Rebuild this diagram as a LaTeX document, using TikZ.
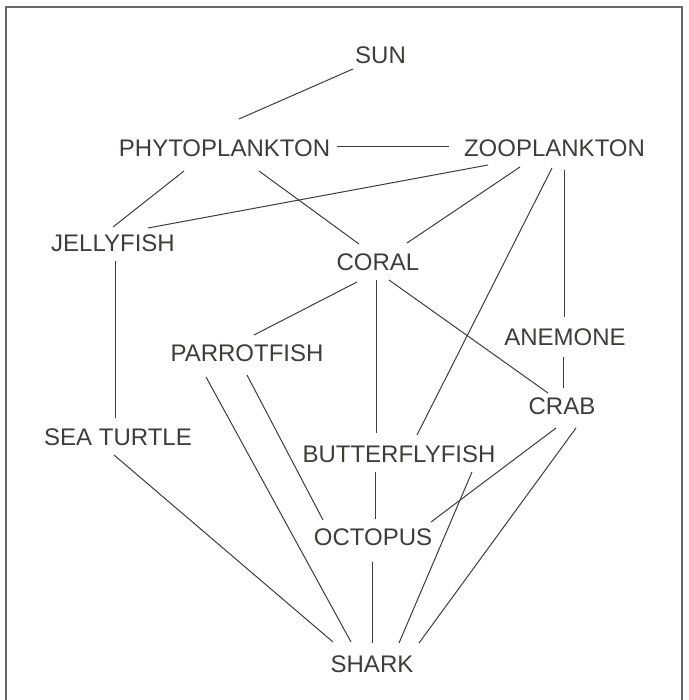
\documentclass[tikz,border=0pt]{standalone}
\usepackage{fontspec}
\setmainfont{Liberation Sans}
\definecolor{ink}{HTML}{403D38}
\definecolor{frame}{HTML}{6A6A62}
\begin{document}
\begin{tikzpicture}[x=1pt,y=-1pt,
  lbl/.style={inner sep=0pt, text=ink, font=\fontsize{24}{28}\selectfont},
  link/.style={draw=ink, line width=1pt}]
\useasboundingbox[fill=white] (0,0) rectangle (688,700);
\draw[frame, line width=2.2pt] (6,701) -- (6,7) -- (682,7) -- (682,701);

\node[lbl] (sun)    at (380.5,55)  {SUN};
\node[lbl] (phyto)  at (224.5,148) {PHYTOPLANKTON};
\node[lbl] (zoo)    at (554.5,148.5) {ZOOPLANKTON};
\node[lbl] (jelly)  at (113,243)   {JELLYFISH};
\node[lbl] (coral)  at (378,262)   {CORAL};
\node[lbl] (anem)   at (565,337)   {ANEMONE};
\node[lbl] (parrot) at (247,353)   {PARROTFISH};
\node[lbl] (crab)   at (562,406)   {CRAB};
\node[lbl] (turtle) at (118,437)   {SEA TURTLE};
\node[lbl] (butter) at (399,454)   {BUTTERFLYFISH};
\node[lbl] (octo)   at (373,537)   {OCTOPUS};
\node[lbl] (shark)  at (372,664)   {SHARK};

\draw[link] ([shift={(-27.5,14)}]sun.center) -- ([shift={(14.5,-29)}]phyto.center);
\draw[link] ([shift={(112.5,-1)}]phyto.center) -- ([shift={(-105.5,-1.5)}]zoo.center);
\draw[link] ([shift={(-40.5,23)}]phyto.center) -- ([shift={(0,-16)}]jelly.center);
\draw[link] ([shift={(34.5,23)}]phyto.center) -- ([shift={(-19,-18)}]coral.center);
\draw[link] ([shift={(-66.5,16.5)}]zoo.center) -- ([shift={(35,-15)}]jelly.center);
\draw[link] ([shift={(-34.5,18.5)}]zoo.center) -- ([shift={(29,-19)}]coral.center);
\draw[link] ([shift={(-2.5,19.5)}]zoo.center) -- ([shift={(18,-19)}]butter.center);
\draw[link] ([shift={(9.5,21.5)}]zoo.center) -- ([shift={(-1,-20)}]anem.center);
\draw[link] ([shift={(2,18)}]jelly.center) -- ([shift={(-3,-19)}]turtle.center);
\draw[link] ([shift={(-21,20)}]coral.center) -- ([shift={(7,-18)}]parrot.center);
\draw[link] ([shift={(-2,18)}]coral.center) -- ([shift={(-23,-21)}]butter.center);
\draw[link] ([shift={(11,18)}]coral.center) -- ([shift={(-14,-13)}]crab.center);
\draw[link] ([shift={(-2,20)}]anem.center) -- ([shift={(1,-18)}]crab.center);
\draw[link] ([shift={(-41,24)}]parrot.center) -- ([shift={(-21,-22)}]shark.center);
\draw[link] ([shift={(0,22)}]parrot.center) -- ([shift={(-50,-17)}]octo.center);
\draw[link] ([shift={(-4,18)}]turtle.center) -- ([shift={(-39,-22)}]shark.center);
\draw[link] ([shift={(-24,18)}]butter.center) -- ([shift={(2,-18)}]octo.center);
\draw[link] ([shift={(73,18)}]butter.center) -- ([shift={(27,-21)}]shark.center);
\draw[link] ([shift={(-6,22)}]crab.center) -- ([shift={(58,-15)}]octo.center);
\draw[link] ([shift={(14,22)}]crab.center) -- ([shift={(47,-21)}]shark.center);
\draw[link] ([shift={(-1,25)}]octo.center) -- ([shift={(0,-21)}]shark.center);
\end{tikzpicture}
\end{document}
